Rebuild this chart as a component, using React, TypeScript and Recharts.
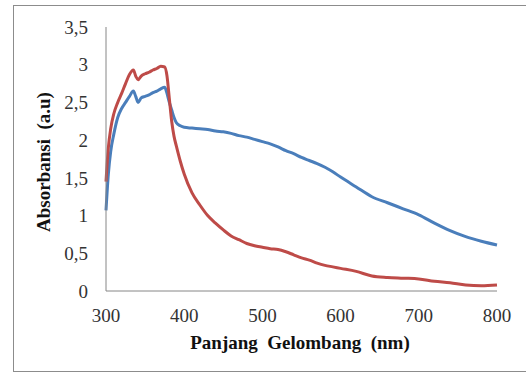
import { LineChart, Line, XAxis, YAxis } from 'recharts';

// wavelength (nm)
const wavelength = [
  300, 303, 306, 310, 315, 320, 325, 330, 335, 338, 341, 345, 350, 355, 360, 365, 370, 375, 378, 381,
  384, 387, 390, 395, 400, 410, 420, 430, 440, 450, 460, 470, 480, 490, 500, 510, 520, 530, 540, 550,
  560, 570, 580, 590, 600, 620, 640, 660, 680, 700, 720, 740, 760, 780, 800,
];

// blue series
const seriesBlue = [
  1.07, 1.55, 1.85, 2.08, 2.3, 2.42, 2.5, 2.58, 2.65, 2.58, 2.5, 2.56, 2.58, 2.6, 2.63, 2.65, 2.68, 2.7, 2.62, 2.5,
  2.4, 2.3, 2.23, 2.19, 2.17, 2.16, 2.15, 2.14, 2.12, 2.11, 2.09, 2.06, 2.04, 2.01, 1.98, 1.95, 1.91, 1.86, 1.82, 1.77,
  1.73, 1.69, 1.64, 1.58, 1.51, 1.38, 1.25, 1.17, 1.09, 1.01, 0.9, 0.8, 0.72, 0.66, 0.61,
];

// red series
const seriesRed = [
  1.45, 1.9, 2.15, 2.35, 2.5, 2.62, 2.75, 2.87, 2.93, 2.85, 2.8, 2.85, 2.88, 2.9, 2.93, 2.95, 2.98, 2.97, 2.85, 2.55,
  2.25, 2.05, 1.92, 1.72, 1.55, 1.3, 1.14, 1.0, 0.9, 0.81, 0.73, 0.68, 0.63, 0.6, 0.58, 0.56, 0.55, 0.52, 0.48, 0.44,
  0.41, 0.37, 0.34, 0.32, 0.3, 0.26, 0.2, 0.18, 0.17, 0.16, 0.13, 0.11, 0.08, 0.07, 0.08,
];

const xTicks = [300, 400, 500, 600, 700, 800];
const yTicks = [0, 0.5, 1, 1.5, 2, 2.5, 3, 3.5];

const data = wavelength.map((nm, i) => ({ nm, blue: seriesBlue[i], red: seriesRed[i] }));

const font = 'Liberation Serif';
const tickStyle = { fontFamily: font, fontSize: 19, fill: '#333' };

export default function App() {
  return (
    <div
      style={{
        position: 'absolute',
        left: 0,
        top: 0,
        width: 526,
        height: 376,
        background: '#fff',
        overflow: 'hidden',
        fontFamily: font,
      }}
    >
      <div
        style={{
          position: 'absolute',
          left: 13,
          top: 5,
          width: 530,
          height: 367,
          border: '1px solid #8c8c8c',
          boxSizing: 'border-box',
        }}
      />
      <div style={{ position: 'absolute', left: 0, top: 0 }}>
        <LineChart
          width={526}
          height={376}
          data={data}
          margin={{ top: 27, right: 29, bottom: 25, left: 46 }}
          style={{ fontFamily: font }}
        >
          <XAxis
            dataKey="nm"
            type="number"
            domain={[300, 800]}
            ticks={xTicks}
            height={60}
            tickLine={false}
            tickMargin={12}
            axisLine={{ stroke: '#868686', strokeWidth: 1 }}
            tick={tickStyle}
          />
          <YAxis
            type="number"
            domain={[0, 3.5]}
            ticks={yTicks}
            width={60}
            tickLine={false}
            tickMargin={12}
            axisLine={{ stroke: '#868686', strokeWidth: 1 }}
            tick={tickStyle}
            tickFormatter={(v: number) => String(v).replace('.', ',')}
          />
          <Line type="monotone" dataKey="blue" stroke="#4a7ebb" strokeWidth={3} dot={false} isAnimationActive={false} />
          <Line type="monotone" dataKey="red" stroke="#be4b48" strokeWidth={3} dot={false} isAnimationActive={false} />
        </LineChart>
      </div>
      <div
        style={{
          position: 'absolute',
          left: 300,
          top: 343,
          transform: 'translate(-50%, -50%)',
          whiteSpace: 'pre',
          fontWeight: 'bold',
          fontSize: 19,
          color: '#111',
        }}
      >
        {'Panjang  Gelombang  (nm)'}
      </div>
      <div
        style={{
          position: 'absolute',
          left: 44,
          top: 162,
          transform: 'translate(-50%, -50%) rotate(-90deg)',
          whiteSpace: 'pre',
          fontWeight: 'bold',
          fontSize: 19,
          color: '#111',
        }}
      >
        {'Absorbansi  (a.u)'}
      </div>
    </div>
  );
}
